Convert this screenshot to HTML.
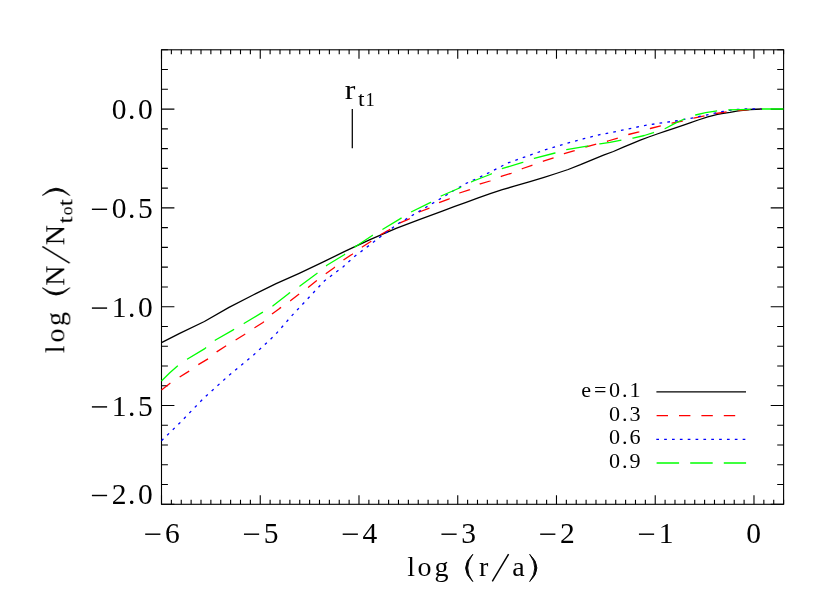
<!DOCTYPE html>
<html><head><meta charset="utf-8"><title>plot</title>
<style>html,body{margin:0;padding:0;background:#fff}svg{display:block}</style></head>
<body>
<svg width="830" height="607" viewBox="0 0 830 607">
<rect width="830" height="607" fill="#fff"/>
<g fill="none" stroke="#000" stroke-width="1.1">
<rect x="161.5" y="49.8" width="622.10" height="454.50"/>
<path d="M161.50 504.30v-9.0M161.50 49.80v9.0M171.37 504.30v-4.5M171.37 49.80v4.5M181.25 504.30v-4.5M181.25 49.80v4.5M191.12 504.30v-4.5M191.12 49.80v4.5M201.00 504.30v-4.5M201.00 49.80v4.5M210.87 504.30v-4.5M210.87 49.80v4.5M220.75 504.30v-4.5M220.75 49.80v4.5M230.62 504.30v-4.5M230.62 49.80v4.5M240.50 504.30v-4.5M240.50 49.80v4.5M250.37 504.30v-4.5M250.37 49.80v4.5M260.25 504.30v-9.0M260.25 49.80v9.0M270.12 504.30v-4.5M270.12 49.80v4.5M280.00 504.30v-4.5M280.00 49.80v4.5M289.87 504.30v-4.5M289.87 49.80v4.5M299.74 504.30v-4.5M299.74 49.80v4.5M309.62 504.30v-4.5M309.62 49.80v4.5M319.49 504.30v-4.5M319.49 49.80v4.5M329.37 504.30v-4.5M329.37 49.80v4.5M339.24 504.30v-4.5M339.24 49.80v4.5M349.12 504.30v-4.5M349.12 49.80v4.5M358.99 504.30v-9.0M358.99 49.80v9.0M368.87 504.30v-4.5M368.87 49.80v4.5M378.74 504.30v-4.5M378.74 49.80v4.5M388.62 504.30v-4.5M388.62 49.80v4.5M398.49 504.30v-4.5M398.49 49.80v4.5M408.37 504.30v-4.5M408.37 49.80v4.5M418.24 504.30v-4.5M418.24 49.80v4.5M428.11 504.30v-4.5M428.11 49.80v4.5M437.99 504.30v-4.5M437.99 49.80v4.5M447.86 504.30v-4.5M447.86 49.80v4.5M457.74 504.30v-9.0M457.74 49.80v9.0M467.61 504.30v-4.5M467.61 49.80v4.5M477.49 504.30v-4.5M477.49 49.80v4.5M487.36 504.30v-4.5M487.36 49.80v4.5M497.24 504.30v-4.5M497.24 49.80v4.5M507.11 504.30v-4.5M507.11 49.80v4.5M516.99 504.30v-4.5M516.99 49.80v4.5M526.86 504.30v-4.5M526.86 49.80v4.5M536.73 504.30v-4.5M536.73 49.80v4.5M546.61 504.30v-4.5M546.61 49.80v4.5M556.48 504.30v-9.0M556.48 49.80v9.0M566.36 504.30v-4.5M566.36 49.80v4.5M576.23 504.30v-4.5M576.23 49.80v4.5M586.11 504.30v-4.5M586.11 49.80v4.5M595.98 504.30v-4.5M595.98 49.80v4.5M605.86 504.30v-4.5M605.86 49.80v4.5M615.73 504.30v-4.5M615.73 49.80v4.5M625.61 504.30v-4.5M625.61 49.80v4.5M635.48 504.30v-4.5M635.48 49.80v4.5M645.36 504.30v-4.5M645.36 49.80v4.5M655.23 504.30v-9.0M655.23 49.80v9.0M665.10 504.30v-4.5M665.10 49.80v4.5M674.98 504.30v-4.5M674.98 49.80v4.5M684.85 504.30v-4.5M684.85 49.80v4.5M694.73 504.30v-4.5M694.73 49.80v4.5M704.60 504.30v-4.5M704.60 49.80v4.5M714.48 504.30v-4.5M714.48 49.80v4.5M724.35 504.30v-4.5M724.35 49.80v4.5M734.23 504.30v-4.5M734.23 49.80v4.5M744.10 504.30v-4.5M744.10 49.80v4.5M753.98 504.30v-9.0M753.98 49.80v9.0M763.85 504.30v-4.5M763.85 49.80v4.5M773.73 504.30v-4.5M773.73 49.80v4.5M783.60 504.30v-4.5M783.60 49.80v4.5M161.50 504.30h12.9M783.60 504.30h-12.9M161.50 484.54h6.4M783.60 484.54h-6.4M161.50 464.78h6.4M783.60 464.78h-6.4M161.50 445.02h6.4M783.60 445.02h-6.4M161.50 425.26h6.4M783.60 425.26h-6.4M161.50 405.50h12.9M783.60 405.50h-12.9M161.50 385.73h6.4M783.60 385.73h-6.4M161.50 365.97h6.4M783.60 365.97h-6.4M161.50 346.21h6.4M783.60 346.21h-6.4M161.50 326.45h6.4M783.60 326.45h-6.4M161.50 306.69h12.9M783.60 306.69h-12.9M161.50 286.93h6.4M783.60 286.93h-6.4M161.50 267.17h6.4M783.60 267.17h-6.4M161.50 247.41h6.4M783.60 247.41h-6.4M161.50 227.65h6.4M783.60 227.65h-6.4M161.50 207.89h12.9M783.60 207.89h-12.9M161.50 188.13h6.4M783.60 188.13h-6.4M161.50 168.37h6.4M783.60 168.37h-6.4M161.50 148.60h6.4M783.60 148.60h-6.4M161.50 128.84h6.4M783.60 128.84h-6.4M161.50 109.08h12.9M783.60 109.08h-12.9M161.50 89.32h6.4M783.60 89.32h-6.4M161.50 69.56h6.4M783.60 69.56h-6.4M161.50 49.80h6.4M783.60 49.80h-6.4"/>
<path stroke-width="1.25" d="M352.3 109V148.3"/>
<path stroke-width="1.3" d="M656.4 391.8H746"/>
<path stroke="#f00" stroke-width="1.3" stroke-dasharray="11.4 11" d="M656.6 415.6H746"/>
<path stroke="#00f" stroke-width="1.3" stroke-dasharray="2.7 5.15" d="M656.3 439.3H746"/>
<path stroke="#0f0" stroke-width="1.3" stroke-dasharray="22.5 11.1" d="M656.6 463H746.1"/>
</g>
<g fill="none" stroke-width="1.3" stroke-linejoin="round">
<polyline stroke="#000" points="161.5,342.7 179.7,333.3 204.4,321.5 229.0,307.4 253.1,295.0 276.1,283.7 299.2,273.3 322.3,262.3 345.3,251.2 370.0,239.7 396.1,228.3 419.2,219.6 442.3,211.1 454.1,206.7 466.1,202.4 478.2,197.9 490.2,193.7 502.3,189.7 514.3,186.2 530.0,181.6 544.1,177.3 556.1,173.5 568.2,169.5 580.5,164.7 592.0,159.8 603.5,155.1 613.4,151.5 623.4,147.2 631.9,143.6 640.3,140.2 648.7,137.0 657.2,134.0 665.6,131.1 674.0,128.3 685.0,124.6 690.0,122.9 698.2,120.0 707.8,116.9 717.5,114.3 723.3,113.3 730.0,112.3 738.2,110.8 750.2,109.5 762.2,109.0"/>
<polyline stroke="#f00" stroke-dasharray="11.3 11.1" points="161.5,390.1 169.8,383.5 179.7,377.0 188.3,371.6 198.2,364.7 208.1,358.8 216.7,351.9 225.4,346.2 235.5,340.0 244.5,334.5 254.6,327.8 263.0,322.5 268.6,317.0 272.7,313.5 279.6,308.4 290.4,300.8 298.5,294.6 308.4,287.2 316.5,280.7 325.7,273.8 333.8,268.0 344.2,259.5 352.2,254.2 362.6,246.8 370.0,242.0 380.0,235.0 389.2,229.9 398.4,223.5 408.8,219.1 419.2,212.0 429.6,208.0 438.8,202.7 449.2,198.8 459.5,193.0 469.9,189.6 480.3,183.8 490.0,181.0 501.9,176.1 511.1,173.3 522.7,168.5 531.9,165.3 543.4,161.1 553.8,157.7 564.2,153.7 574.6,150.7 584.9,147.3 595.3,144.3 608.0,141.0 617.9,138.1 628.4,134.5 639.0,131.8 650.2,128.5 660.7,125.8 671.9,123.2 682.5,121.0 693.7,118.2 704.7,115.8 715.9,113.5 726.7,111.9 738.0,110.5 750.0,109.4 761.0,109.0"/>
<polyline stroke="#00f" stroke-width="1.3" stroke-dasharray="2.7 5.15" points="161.5,440.7 179.7,423.0 204.4,397.5 229.0,375.3 253.8,354.8 271.0,338.8 276.1,333.8 291.1,316.5 308.4,298.0 324.6,280.7 343.0,266.9 354.5,256.5 363.8,249.5 378.8,238.0 398.4,223.5 418.0,212.0 437.6,200.4 451.5,191.9 465.3,183.8 480.3,176.9 493.8,170.3 507.7,163.0 529.6,155.3 545.7,149.6 567.6,143.1 583.8,138.7 599.9,134.6 612.6,132.2 628.4,128.9 644.3,125.6 659.4,123.2 675.2,121.0 690.5,118.3 698.4,116.7 705.9,115.2 713.5,113.5 721.3,111.7 728.6,110.5 737.0,109.5 744.8,109.0 752.7,108.9 761.0,109.0"/>
<polyline stroke="#0f0" stroke-dasharray="22.4 11.17" points="161.5,381.0 169.8,372.8 177.2,366.2 187.1,359.3 204.4,348.9 215.5,340.0 232.8,330.1 243.9,323.5 262.4,312.4 272.7,306.1 288.8,293.4 300.3,285.8 316.5,273.8 326.9,265.3 344.2,254.7 354.5,247.3 371.9,235.7 382.3,229.5 399.6,219.1 411.1,212.0 430.7,202.3 441.1,196.0 459.5,188.0 472.2,181.5 490.0,174.5 501.9,168.7 522.7,162.3 534.2,158.3 555.0,153.0 566.5,149.6 587.2,146.1 599.9,143.8 610.0,142.3 621.6,140.1 633.1,138.1 644.3,135.5 653.5,132.6 665.3,128.5 675.9,122.9 684.4,119.0 695.5,115.0 705.7,112.7 717.1,110.8 728.6,109.9 750.2,109.3 762.0,109.0 783.4,109.0"/>
</g>
<g font-family="'Liberation Serif', serif" fill="#000" text-anchor="middle" opacity="0.999">
<text x="119.0" y="119.1" font-size="29.5">0</text><text x="131.8" y="119.1" font-size="29.5">.</text><text x="145.3" y="119.1" font-size="29.5">0</text>
<path d="M91.90 209.29h15.2" stroke="#000" stroke-width="1.45" fill="none"/><text x="119.0" y="217.9" font-size="29.5">0</text><text x="131.8" y="217.9" font-size="29.5">.</text><text x="145.3" y="217.9" font-size="29.5">5</text>
<path d="M91.90 308.09h15.2" stroke="#000" stroke-width="1.45" fill="none"/><text x="119.0" y="316.7" font-size="29.5">1</text><text x="131.8" y="316.7" font-size="29.5">.</text><text x="145.3" y="316.7" font-size="29.5">0</text>
<path d="M91.90 406.90h15.2" stroke="#000" stroke-width="1.45" fill="none"/><text x="119.0" y="415.5" font-size="29.5">1</text><text x="131.8" y="415.5" font-size="29.5">.</text><text x="145.3" y="415.5" font-size="29.5">5</text>
<path d="M91.90 495.50h15.2" stroke="#000" stroke-width="1.45" fill="none"/><text x="119.0" y="504.1" font-size="29.5">2</text><text x="131.8" y="504.1" font-size="29.5">.</text><text x="145.3" y="504.1" font-size="29.5">0</text>
<path d="M145.20 534.20h15.2" stroke="#000" stroke-width="1.45" fill="none"/><text x="172.3" y="542.8" font-size="29.5">6</text>
<path d="M243.95 534.20h15.2" stroke="#000" stroke-width="1.45" fill="none"/><text x="271.1" y="542.8" font-size="29.5">5</text>
<path d="M342.69 534.20h15.2" stroke="#000" stroke-width="1.45" fill="none"/><text x="369.8" y="542.8" font-size="29.5">4</text>
<path d="M441.44 534.20h15.2" stroke="#000" stroke-width="1.45" fill="none"/><text x="468.6" y="542.8" font-size="29.5">3</text>
<path d="M540.18 534.20h15.2" stroke="#000" stroke-width="1.45" fill="none"/><text x="567.3" y="542.8" font-size="29.5">2</text>
<path d="M638.93 534.20h15.2" stroke="#000" stroke-width="1.45" fill="none"/><text x="666.1" y="542.8" font-size="29.5">1</text>
<text x="753.5" y="542.8" font-size="29.5">0</text>
<text x="411.2" y="576.1" font-size="28">l</text><text x="424.4" y="576.1" font-size="28">o</text><text x="441.4" y="576.1" font-size="28">g</text><text x="483.7" y="576.1" font-size="28">r</text><text x="518.4" y="576.1" font-size="28">a</text>
<path d="M472.80 554.30Q458.40 567.95 472.80 581.60Q462.60 567.95 472.80 554.30Z" stroke="#000" stroke-width="0.90" stroke-linejoin="round"/>
<path d="M529.70 554.30Q544.10 567.95 529.70 581.60Q539.90 567.95 529.70 554.30Z" stroke="#000" stroke-width="0.90" stroke-linejoin="round"/>
<path d="M492.30 581.40L508.60 554.20" stroke="#000" stroke-width="1.5" fill="none"/>
<g transform="translate(64.3 353) rotate(-90)">
<text x="3.7" y="0.0" font-size="28">l</text><text x="17.6" y="0.0" font-size="28">o</text><text x="34.0" y="0.0" font-size="28">g</text><text x="77.4" y="0.0" font-size="28">N</text><text x="117.8" y="0.0" font-size="28">N</text>
<text transform="translate(133.0 7.6) scale(1.25 1)" font-size="20.5">t</text><text transform="translate(150.4 7.6) scale(1.25 1)" font-size="20.5">t</text>
<text x="142.2" y="7.6" font-size="17.5">o</text>
<path d="M65.20 -21.80Q50.80 -8.15 65.20 5.50Q55.00 -8.15 65.20 -21.80Z" stroke="#000" stroke-width="0.90" stroke-linejoin="round"/>
<path d="M157.60 -21.80Q172.00 -8.15 157.60 5.50Q167.80 -8.15 157.60 -21.80Z" stroke="#000" stroke-width="0.90" stroke-linejoin="round"/>
<path d="M89.90 5.30L106.50 -21.90" stroke="#000" stroke-width="1.5" fill="none"/>
</g>
<text transform="translate(350.0 99.0) scale(1.14 1)" font-size="28">r</text>
<text transform="translate(361.2 105.8) scale(1.15 1)" font-size="20.5">t</text>
<text x="370.0" y="105.8" font-size="18.5">1</text>
<text transform="translate(586.2 397.2) scale(1.08 1)" font-size="20.5">e</text><text transform="translate(600.3 397.2) scale(1.08 1)" font-size="20.5">=</text><text transform="translate(614.5 397.2) scale(1.08 1)" font-size="20.5">0</text><text transform="translate(624.8 397.2) scale(1.08 1)" font-size="20.5">.</text><text transform="translate(635.0 397.2) scale(1.08 1)" font-size="20.5">1</text>
<text transform="translate(614.5 420.8) scale(1.08 1)" font-size="20.5">0</text><text transform="translate(624.8 420.8) scale(1.08 1)" font-size="20.5">.</text><text transform="translate(635.0 420.8) scale(1.08 1)" font-size="20.5">3</text>
<text transform="translate(614.5 444.4) scale(1.08 1)" font-size="20.5">0</text><text transform="translate(624.8 444.4) scale(1.08 1)" font-size="20.5">.</text><text transform="translate(635.0 444.4) scale(1.08 1)" font-size="20.5">6</text>
<text transform="translate(614.5 468.0) scale(1.08 1)" font-size="20.5">0</text><text transform="translate(624.8 468.0) scale(1.08 1)" font-size="20.5">.</text><text transform="translate(635.0 468.0) scale(1.08 1)" font-size="20.5">9</text>
</g></svg>
</body></html>
